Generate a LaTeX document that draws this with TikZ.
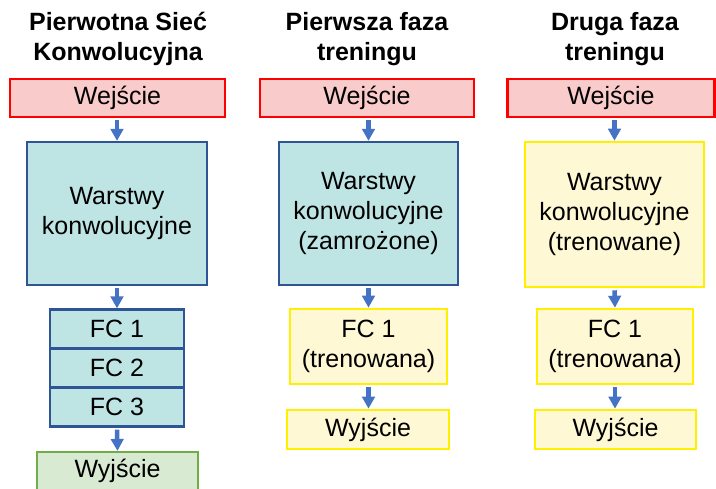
\documentclass[tikz,border=0pt]{standalone}
\usepackage{fontspec}
\setmainfont{Liberation Sans}
\usetikzlibrary{arrows.meta}
\definecolor{inred}{HTML}{FF0000}
\definecolor{infill}{HTML}{F9CBCB}
\definecolor{convline}{HTML}{2F5597}
\definecolor{convfill}{HTML}{BFE4E4}
\definecolor{outgreen}{HTML}{70AD47}
\definecolor{outfill}{HTML}{D9EAD3}
\definecolor{trline}{HTML}{FFF000}
\definecolor{trfill}{HTML}{FFF8D4}
\definecolor{arrblue}{HTML}{4472C4}
\tikzset{
  box/.style={draw, inner sep=0pt, align=center, font=\fontsize{25}{30}\selectfont},
  inbox/.style={box, draw=inred, fill=infill, line width=2.6pt},
  convbox/.style={box, draw=convline, fill=convfill, line width=2.2pt},
  trbox/.style={box, draw=trline, fill=trfill, line width=2.6pt},
  outbox/.style={box, draw=outgreen, fill=outfill, line width=2.2pt},
  heading/.style={align=center, inner sep=0pt, font=\fontsize{25}{30}\selectfont\bfseries},
  arr/.style={draw=arrblue, line width=4.5pt, shorten <=2pt, -{Triangle[width=12.5pt,length=12pt]}}
}
\begin{document}
\begin{tikzpicture}[x=1pt,y=-1pt]
\useasboundingbox (0,0) rectangle (716,489);

% headings
\node[heading] (t1) at (118,39) {Pierwotna Sieć\\Konwolucyjna};
\node[heading] (t2) at (367,39) {Pierwsza faza\\treningu};
\node[heading] (t3) at (615,39) {Druga faza\\treningu};

% original network
\node[inbox, minimum width=215pt, minimum height=38pt] (w1) at (117.5,98) {Wejście};
\node[convbox, minimum width=180pt, minimum height=143pt] (c1) at (117,213.5) {Warstwy\\konwolucyjne};
\node[convbox, minimum width=134pt, minimum height=39pt] (f1) at (117,329) {FC 1};
\node[convbox, minimum width=134pt, minimum height=39pt] (f2) at (117,368) {FC 2};
\node[convbox, minimum width=134pt, minimum height=39pt] (f3) at (117,407) {FC 3};
\node[outbox, minimum width=161pt, minimum height=38pt] (o1) at (117.5,471) {Wyjście};

% first training phase
\node[inbox, minimum width=214pt, minimum height=38pt] (w2) at (367,98) {Wejście};
\node[convbox, minimum width=179pt, minimum height=143pt] (c2) at (368.5,213.5) {Warstwy\\konwolucyjne\\(zamrożone)};
\node[trbox, minimum width=157pt, minimum height=75pt] (g2) at (368.5,346.5) {FC 1\\(trenowana)};
\node[trbox, minimum width=162pt, minimum height=39pt] (o2) at (368,429.5) {Wyjście};

% second training phase
\node[inbox, minimum width=207pt, minimum height=38pt] (w3) at (611,98) {Wejście};
\node[trbox, minimum width=179pt, minimum height=145pt] (c3) at (614.5,214.5) {Warstwy\\konwolucyjne\\(trenowane)};
\node[trbox, minimum width=156pt, minimum height=75pt] (g3) at (615,346.5) {FC 1\\(trenowana)};
\node[trbox, minimum width=161pt, minimum height=39pt] (o3) at (615.5,429.5) {Wyjście};

% connectors
\draw[arr] (c1.north |- w1.south) -- (c1.north);
\draw[arr] (c1.south) -- (f1.north);
\draw[arr] (f3.south) -- (o1.north);
\draw[arr] (c2.north |- w2.south) -- (c2.north);
\draw[arr] (c2.south) -- (g2.north);
\draw[arr] (g2.south) -- (g2.south |- o2.north);
\draw[arr] (c3.north |- w3.south) -- (c3.north);
\draw[arr] (c3.south) -- (g3.north);
\draw[arr] (g3.south) -- (g3.south |- o3.north);
\end{tikzpicture}
\end{document}
